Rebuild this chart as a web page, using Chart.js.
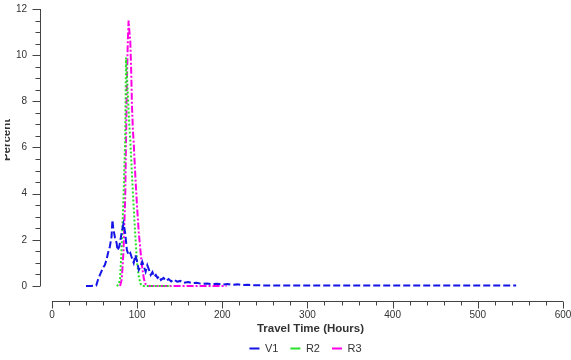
<!DOCTYPE html>
<html>
<head>
<meta charset="utf-8">
<script src="https://cdn.jsdelivr.net/npm/chart.js@4.4.1/dist/chart.umd.min.js"></script>
<style>
  body { margin: 0; background: #fff; }
</style>
</head>
<body>
<canvas id="grafico" width="571" height="360"></canvas>
<script>
// valores (horas x percentual)
const v1Horas = [40, 46, 52, 54, 56, 58, 60, 62, 64, 66,
    68, 70, 71, 72, 73, 74, 76, 77, 79, 80,
    82, 84, 86, 88, 90, 92, 94, 96, 98, 100,
    102, 104, 106, 108, 110, 112, 114, 116, 118, 120,
    122, 124, 126, 128, 131, 134, 137, 140, 143, 147,
    151, 155, 160, 165, 170, 176, 182, 188, 194, 200,
    206, 212, 218, 224, 230, 240, 260, 300, 350, 400,
    450, 500, 545];
const v1Pct = [0, 0, 0.02, 0.26, 0.45, 0.62, 0.8, 0.9, 1.13, 1.45,
    1.7, 2.14, 2.86, 2.5, 2.3, 2.1, 1.85, 1.55, 1.7, 1.9,
    2.35, 2.7, 2.3, 1.56, 1.34, 1.43, 1.2, 1.0, 1.34, 1.05,
    0.7, 0.84, 1.05, 0.84, 0.62, 0.9, 0.7, 0.48, 0.6, 0.4,
    0.48, 0.35, 0.42, 0.26, 0.35, 0.22, 0.3, 0.2, 0.28, 0.19,
    0.22, 0.14, 0.17, 0.12, 0.14, 0.09, 0.11, 0.08, 0.1, 0.06,
    0.09, 0.05, 0.07, 0.04, 0.05, 0.03, 0.02, 0.02, 0.02, 0.02,
    0.02, 0.02, 0.02];

const r2Horas = [76, 78, 80, 82, 84, 86, 87, 88, 89, 90, 91, 92, 94, 96, 98, 100, 102, 104, 106, 120, 140];
const r2Pct = [0, 0.05, 0.3, 1.8, 3.8, 6.3, 9.9, 9.2, 8.4, 7.6, 6.9, 6.3, 4.8, 3.4, 2.1, 1.0, 0.4, 0.1, 0, 0, 0];

const r3Horas = [80, 82, 84, 86, 87, 88, 89, 90, 91, 92, 93, 94, 95, 96, 98, 100, 102, 104, 106, 108, 110, 112, 130, 160, 205];
const r3Pct = [0, 0.3, 1.5, 3.8, 6.3, 8.8, 10.5, 11.5, 11.0, 10.6, 9.4, 7.8, 6.8, 6.2, 4.7, 3.4, 2.3, 1.5, 0.8, 0.3, 0.08, 0, 0, 0, 0];

const ticksX = [0, 100, 200, 300, 400, 500, 600];
const ticksY = [0, 2, 4, 6, 8, 10, 12];

function pontos(horas, pct) {
    return horas.map(function (h, i) { return { x: h, y: pct[i] }; });
}

const corTexto = '#333';

// eixos deslocados com ticks menores, desenhados a partir das escalas
const eixosPlugin = {
    id: 'eixos',
    afterLayout(chart) {
        // legenda centrada sob o eixo x, como no original
        chart.legend.left += 24;
        chart.legend.right += 24;
    },
    afterDraw(chart) {
        const ctx = chart.ctx;
        const x = chart.scales.x;
        const y = chart.scales.y;
        const area = chart.chartArea;
        ctx.save();
        ctx.strokeStyle = '#444';
        ctx.lineWidth = 1;
        ctx.beginPath();
        // eixo y
        const xl = Math.round(area.left) + 0.5;
        ctx.moveTo(xl, y.getPixelForValue(12));
        ctx.lineTo(xl, y.getPixelForValue(0));
        for (let v = 0; v <= 12.001; v += 0.5) {
            const py = Math.round(y.getPixelForValue(v)) + 0.5;
            const len = (Math.abs(v % 2) < 0.01) ? 8 : 5;
            ctx.moveTo(xl - len, py);
            ctx.lineTo(xl, py);
        }
        // eixo x
        const yb = Math.round(area.bottom) + 0.5;
        ctx.moveTo(x.getPixelForValue(0), yb);
        ctx.lineTo(x.getPixelForValue(600), yb);
        for (let v = 0; v <= 600; v += 20) {
            const px = Math.round(x.getPixelForValue(v)) + 0.5;
            const len = (v % 100 === 0) ? 7 : 4;
            ctx.moveTo(px, yb);
            ctx.lineTo(px, yb + len);
        }
        ctx.stroke();

        // titulo do eixo x
        ctx.fillStyle = corTexto;
        ctx.font = 'bold 11.5px "Liberation Sans"';
        ctx.textAlign = 'center';
        ctx.textBaseline = 'middle';
        ctx.fillText('Travel Time (Hours)', x.getPixelForValue(300) + 3, 329);

        // titulo do eixo y (cortado na borda)
        ctx.beginPath();
        ctx.rect(5, 0, 40, 360);
        ctx.clip();
        ctx.translate(10, 140);
        ctx.rotate(-Math.PI / 2);
        ctx.textBaseline = 'alphabetic';
        ctx.fillText('Percent', 0, 0);
        ctx.restore();
    }
};

const dados = {
    datasets: [{
        label: 'V1',
        data: pontos(v1Horas, v1Pct),
        borderColor: 'rgb(20, 20, 230)',
        backgroundColor: 'rgb(20, 20, 230)',
        borderDash: [7, 3],
        borderWidth: 2
    }, {
        label: 'R2',
        data: pontos(r2Horas, r2Pct),
        borderColor: 'rgb(40, 225, 40)',
        backgroundColor: 'rgb(40, 225, 40)',
        borderDash: [2, 2],
        borderWidth: 2
    }, {
        label: 'R3',
        data: pontos(r3Horas, r3Pct),
        borderColor: 'rgb(255, 0, 230)',
        backgroundColor: 'rgb(255, 0, 230)',
        borderDash: [7, 2, 2, 2],
        borderWidth: 2
    }]
};

const config = {
    type: 'line',
    data: dados,
    options: {
        responsive: false,
        animation: false,
        elements: { point: { radius: 0 }, line: { tension: 0 } },
        layout: { padding: { left: 0, right: 8, top: 9, bottom: -4 } },
        plugins: {
            legend: {
                position: 'bottom',
                labels: {
                    usePointStyle: true,
                    pointStyle: 'line',
                    pointStyleWidth: 10,
                    color: corTexto,
                    padding: 12,
                    font: { family: 'Liberation Sans', size: 11 }
                }
            },
            tooltip: { enabled: false }
        },
        scales: {
            x: {
                type: 'linear',
                min: -14,
                max: 600,
                grid: { display: false, drawTicks: false },
                border: { display: false },
                afterBuildTicks: function (scale) {
                    scale.ticks = ticksX.map(function (v) { return { value: v }; });
                },
                afterFit: function (scale) {
                    scale.height = 30;
                    scale.paddingLeft = 0;
                    scale.paddingRight = 0;
                },
                ticks: {
                    padding: 8,
                    color: corTexto,
                    maxRotation: 0,
                    font: { family: 'Liberation Sans', size: 10 }
                }
            },
            y: {
                min: -0.65,
                max: 12,
                grid: { display: false, drawTicks: false },
                border: { display: false },
                afterBuildTicks: function (scale) {
                    scale.ticks = ticksY.map(function (v) { return { value: v }; });
                },
                afterFit: function (scale) {
                    scale.width = 40;
                    scale.paddingTop = 0;
                    scale.paddingBottom = 0;
                },
                ticks: {
                    padding: 13,
                    color: corTexto,
                    font: { family: 'Liberation Sans', size: 10 }
                }
            }
        }
    },
    plugins: [eixosPlugin]
};

new Chart(document.getElementById('grafico'), config);
</script>
</body>
</html>
